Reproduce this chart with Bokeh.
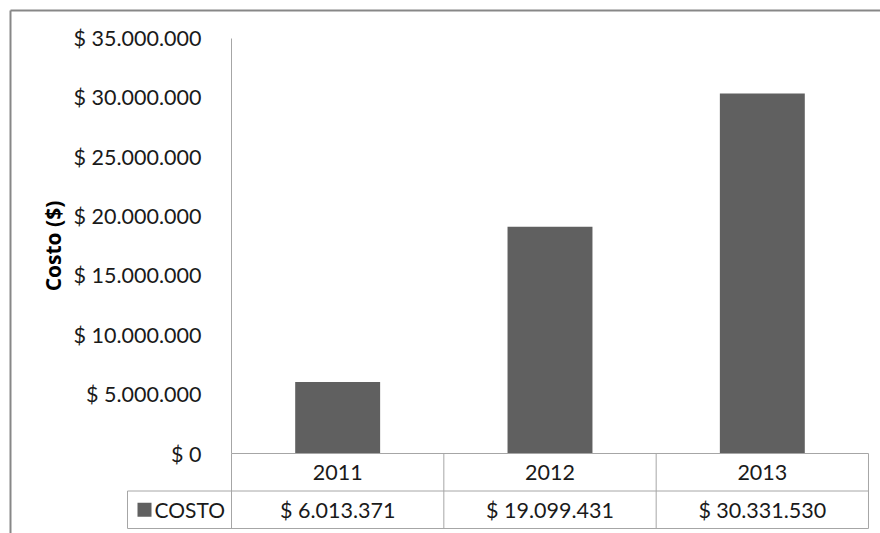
from bokeh.plotting import figure
from bokeh.models import Range1d, FixedTicker, ColumnDataSource
from bokeh.embed import file_html
from bokeh.resources import INLINE
from bokeh.core.properties import value

# ---- data ----
years = ["2011", "2012", "2013"]
costs = [6013371, 19099431, 30331530]
series_name = "COSTO"
y_ticks = [0, 5000000, 10000000, 15000000, 20000000, 25000000, 30000000, 35000000]
y_title = "Costo ($)"


def money(v):
    return "$ " + f"{int(v):,}".replace(",", ".")


# ---- style / layout ----
FONT = "Lato"
TXT = "#1a1a1a"
GRID = "#a6a6a6"
BAR = "#606060"
BORDER = "#878787"
W, H = 880, 533

Y_MAX = 35_000_000
AXIS_X_PX = 231.0          # canvas x of the value axis
CAT_PX = 212.33            # width of one category slot, px
ZERO_PX = 453.0            # canvas y of the zero line
TOP_PX = 37.5              # canvas y of the axis maximum
PX_PER_UNIT = (ZERO_PX - TOP_PX) / Y_MAX


def px_x(px):
    return (px - AXIS_X_PX) / CAT_PX


def px_y(py):
    return (ZERO_PX - py) / PX_PER_UNIT


ROW = 37.5 / PX_PER_UNIT   # data-table row height in axis units

p = figure(width=W, height=H,
           x_range=Range1d(px_x(0), px_x(W)),
           y_range=Range1d(px_y(H), px_y(0)),
           output_backend="svg", toolbar_location=None,
           min_border=0, outline_line_color=None)

p.xaxis.visible = False
p.xgrid.visible = False
p.ygrid.visible = False
p.background_fill_color = "white"
p.border_fill_color = "white"

# y axis, pinned at the left edge of the category area
ax = p.yaxis[0]
ax.fixed_location = 0
ax.ticker = FixedTicker(ticks=y_ticks)
ax.major_label_overrides = {t: money(t) for t in y_ticks}
ax.bounds = (0, Y_MAX)
ax.axis_line_color = GRID
ax.axis_line_width = 1
ax.major_tick_line_color = None
ax.minor_tick_line_color = None
ax.major_label_standoff = 24
ax.major_label_text_font = FONT
ax.major_label_text_font_size = "21.5px"
ax.major_label_text_color = TXT
ax.axis_label = y_title
ax.axis_label_text_font = "Open Sans"
ax.axis_label_text_font_size = "21px"
ax.axis_label_text_font_style = "bold"
ax.axis_label_text_color = "#000000"
ax.axis_label_standoff = 4

# bars
n = len(years)
xs = [i + 0.5 for i in range(n)]
src = ColumnDataSource(dict(x=xs, top=costs, year=years,
                            label=[money(c) for c in costs]))
p.vbar(x="x", top="top", bottom=0, width=0.4, source=src,
       fill_color=BAR, line_color=None)

# data table
lx = px_x(127)
p.segment(x0=[0, lx, lx], x1=[n, n, n], y0=[0, -ROW, -2 * ROW], y1=[0, -ROW, -2 * ROW],
          line_color=GRID, line_width=1)
vx = [lx] + list(range(0, n + 1))
p.segment(x0=vx, x1=vx,
          y0=[-ROW] + [0] * (n + 1), y1=[-2 * ROW] * (n + 2),
          line_color=GRID, line_width=1)
p.text(x="x", y=-ROW / 2, text="year", source=src, text_align="center",
       text_baseline="middle", text_font=value(FONT), text_font_size="21.5px",
       text_color=TXT)
p.text(x="x", y=-1.5 * ROW, text="label", source=src, text_align="center",
       text_baseline="middle", text_font=value(FONT), text_font_size="21.5px",
       text_color=TXT)

# legend key + series name in the table's first column
p.scatter(x=[px_x(144)], y=[-1.5 * ROW], marker="square", size=14,
          fill_color=BAR, line_color=None)
p.text(x=[px_x(154)], y=[-1.5 * ROW], text=[series_name], text_align="left",
       text_baseline="middle", text_font=value(FONT), text_font_size="21px",
       text_color=TXT)

# chart-area border (its right and bottom edges lie outside the picture)
bx, by = px_x(10), px_y(10)
p.segment(x0=[bx, bx], y0=[by, by], x1=[px_x(W + 20), bx], y1=[by, px_y(H + 20)],
          line_color=BORDER, line_width=2)

open("out.html", "w").write(file_html(p, INLINE))
